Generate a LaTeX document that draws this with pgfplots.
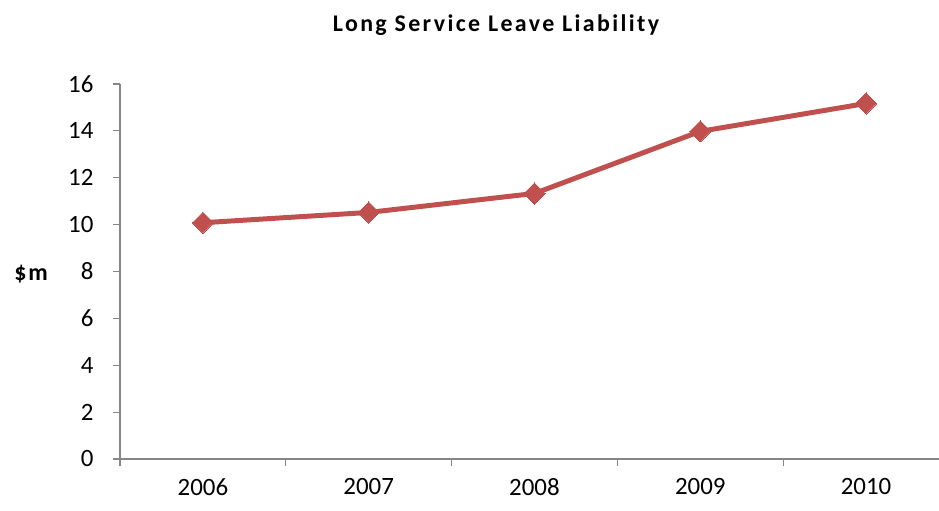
\documentclass[border=0pt]{standalone}
\usepackage{fontspec}
\setmainfont{Carlito}
\usepackage{pgfplots}
\pgfplotsset{compat=1.18}
\definecolor{linered}{HTML}{C0504D}
\definecolor{axgray}{HTML}{868686}
\begin{document}
\begin{tikzpicture}[x=1bp,y=1bp]
\begin{axis}[
  at={(0,0)}, anchor=south west,
  scale only axis,
  width=819bp, height=375bp,
  xmin=-0.5, xmax=4.44,
  ymin=0, ymax=16,
  ytick={0,2,...,16},
  xtick={-0.5,0.5,1.5,2.5,3.5},
  xticklabels={},
  extra x ticks={0,1,2,3,4},
  extra x tick labels={2006,2007,2008,2009,2010},
  extra x tick style={major tick length=0pt},
  axis x line*=bottom,
  axis y line*=left,
  axis line style={axgray, line width=1.2pt},
  tick style={axgray, line width=1.2pt},
  tick align=outside,
  major tick length=7bp,
  xticklabel style={font=\fontsize{25}{27}\selectfont, yshift=-16bp},
  yticklabel style={font=\fontsize{25}{27}\selectfont, xshift=-16bp},
  /pgf/number format/assume math mode=true,
  clip=false,
]
\addplot[linered, line width=5pt, mark=square*, mark size=7.5bp, mark options={solid, rotate=45, fill=linered, draw=linered, line width=0pt}]
  coordinates {(0,10.08) (1,10.52) (2,11.33) (3,13.98) (4,15.17)};
\end{axis}
\node[font=\fontsize{24}{26}\selectfont\bfseries\addfontfeature{LetterSpace=10}] at (376bp,434bp) {Long Service Leave Liability};
\node[font=\fontsize{24}{26}\selectfont\bfseries\addfontfeature{LetterSpace=8}] at (-89bp,185bp) {\$m};
\pgfresetboundingbox
\path[use as bounding box] (-120bp,-52bp) rectangle (819bp,459bp);
\end{tikzpicture}
\end{document}
